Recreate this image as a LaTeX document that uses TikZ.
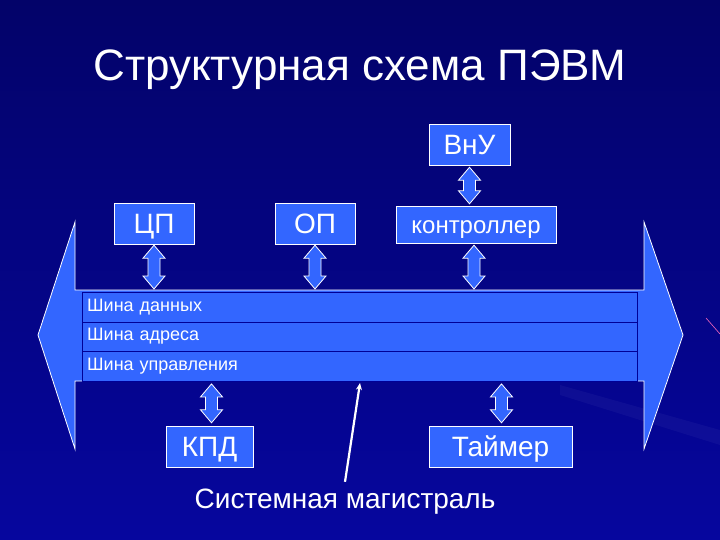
\documentclass[tikz,border=0pt]{standalone}
\usepackage{fontspec}
\setmainfont{Liberation Sans}
\usetikzlibrary{calc,arrows.meta}

\definecolor{bgtop}{RGB}{3,3,105}
\definecolor{bgbottom}{RGB}{6,6,158}
\definecolor{boxblue}{RGB}{51,102,255}
\definecolor{rowline}{RGB}{0,0,150}

\tikzset{
    unit/.style={draw=white, fill=boxblue, text=white, inner sep=0pt,
        text height=25pt, text depth=4.5pt,
        font=\fontsize{28}{32}\selectfont},
    busrow/.style={draw=rowline, fill=boxblue, text=white, anchor=north west,
        minimum width=555pt, minimum height=29.5pt, inner xsep=5pt, inner ysep=0pt,
        text width=545pt, align=left, font=\fontsize{18}{20}\selectfont},
    blockarrow/.style={draw=white, fill=boxblue, line width=0.8pt}
}

% block double arrow between two points (top, bottom)
\newcommand{\dblarr}[2]{
    \draw[blockarrow] let \p1=(#1), \p2=(#2) in
        (\x1-6pt,\y1-13pt) -- (\x1-11pt,\y1-13pt) -- (\x1,\y1) -- (\x1+11pt,\y1-13pt)
        -- (\x1+6pt,\y1-13pt) -- (\x1+6pt,\y2+13pt) -- (\x1+11pt,\y2+13pt) -- (\x1,\y2)
        -- (\x1-11pt,\y2+13pt) -- (\x1-6pt,\y2+13pt) -- cycle;
}

\begin{document}
\begin{tikzpicture}[
    x=1pt,
    y=-1pt
]

% Background
\shade[top color=bgtop, bottom color=bgbottom] (0,0) rectangle (720,540);
\useasboundingbox (0,0) rectangle (720,540);
\fill[white, opacity=0.04] (560,385) -- (720,430) -- (720,445) -- (560,395) -- cycle;
\draw[magenta!60!white, line width=0.6pt] (706,318) -- (720,334);

% Title
\node[text=white, font=\fontsize{44}{48}\selectfont] (title) at (360,70) {Структурная схема ПЭВМ};

% System bus (big double arrow)
\draw[blockarrow] (38,335) -- (75,222) -- (75,290) -- (644,290) -- (644,222)
    -- (683,335) -- (644,449) -- (644,381) -- (75,381) -- (75,449) -- cycle;

\node[busrow] (data) at (82,292) {Шина данных};
\node[busrow] (addr) at (82,321.5) {Шина адреса};
\node[busrow] (ctl) at (82,351) {Шина управления};

% Units
\node[unit, minimum width=81pt, minimum height=41pt] (vnu) at (469.5,144.5) {ВнУ};
\node[unit, minimum width=80pt, minimum height=41pt] (cp) at (154,223.5) {ЦП};
\node[unit, minimum width=80pt, minimum height=41pt] (op) at (315,223.5) {ОП};
\node[unit, minimum width=160pt, minimum height=37pt, text height=21.5pt, text depth=4pt,
    font=\fontsize{24}{28}\selectfont] (ctrl) at (476,224.5) {контроллер};
\node[unit, minimum width=87pt, minimum height=41pt] (kpd) at (209.5,446.5) {КПД};
\node[unit, minimum width=143pt, minimum height=41pt] (timer) at (500.5,446.5) {Таймер};

% Links to the bus
\dblarr{[yshift=-2pt]vnu.south}{[yshift=2pt]ctrl.north -| vnu.south}
\dblarr{[yshift=-1pt]cp.south}{[yshift=3pt]cp.south |- data.north}
\dblarr{[yshift=-1pt]op.south}{[yshift=3pt]op.south |- data.north}
\dblarr{[xshift=-2pt,yshift=-2pt]ctrl.south}{[xshift=-2pt,yshift=3pt]ctrl.south |- data.north}
\dblarr{[xshift=2pt,yshift=-3pt]kpd.north |- ctl.south}{[xshift=2pt,yshift=3pt]kpd.north}
\dblarr{[xshift=1pt,yshift=-3pt]timer.north |- ctl.south}{[xshift=1pt,yshift=3pt]timer.north}

% Label with pointer
\node[text=white, font=\fontsize{28}{32}\selectfont] (sysbus) at (345,502) {Системная магистраль};
\coordinate (busptr) at (360,383);
\draw[white, line width=2.2pt, -{Stealth[length=7pt,width=6pt]}]
    ([yshift=4pt]sysbus.north) -- (busptr);

\end{tikzpicture}
\end{document}
